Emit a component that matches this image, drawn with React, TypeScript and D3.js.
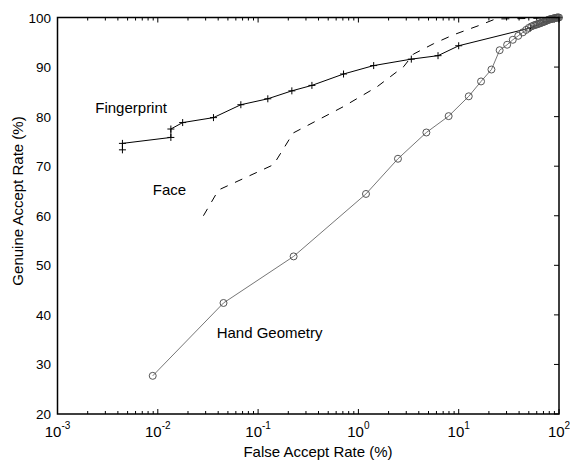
import * as d3 from "d3";

const W = 570;
const H = 460;
const FONT = "'Liberation Sans', Arial, Helvetica, sans-serif";

// Fingerprint (solid, + markers)
const fpFar = [0.00444, 0.00444, 0.0135, 0.0135, 0.0177, 0.0359, 0.0673, 0.125, 0.217, 0.344, 0.711, 1.42, 3.37, 6.22, 10.0, 52, 75, 90, 100];
const fpGar = [73.3, 74.6, 75.8, 77.5, 78.8, 79.8, 82.4, 83.6, 85.2, 86.3, 88.6, 90.3, 91.6, 92.3, 94.3, 97.9, 99.2, 99.7, 100];

// Face (dashed, no markers)
const faceFar = [0.0285, 0.0403, 0.1426, 0.224, 0.706, 1.53, 2.83, 3.53, 5.6, 8.85, 16.5, 23.2, 50, 100];
const faceGar = [60.0, 65.2, 70.3, 76.7, 82.0, 86.0, 90.1, 92.6, 94.7, 96.5, 98.5, 99.7, 99.8, 100];

// Hand geometry (thin grey, o markers)
const handFar = [0.0089, 0.0452, 0.226, 1.19, 2.48, 4.76, 7.94, 12.6, 16.7, 21.2, 25.6, 30.4, 34.6, 39.2, 43.6, 47, 50, 53, 56, 58, 60, 62, 64, 66, 68, 70, 72, 74, 76, 78, 80, 82, 84, 86, 88, 90, 92, 94, 96, 98, 100];
const handGar = [27.7, 42.4, 51.8, 64.4, 71.5, 76.8, 80.1, 84.1, 87.1, 89.5, 93.4, 94.5, 95.5, 96.3, 97.0, 97.5, 97.9, 98.2, 98.4, 98.5, 98.6, 98.7, 98.8, 98.9, 99.0, 99.1, 99.2, 99.3, 99.4, 99.5, 99.6, 99.65, 99.7, 99.75, 99.8, 99.85, 99.9, 99.95, 100, 100, 100];

const yTicks = [20, 30, 40, 50, 60, 70, 80, 90, 100];
const xDecades = [-3, -2, -1, 0, 1, 2];

const labels = [
  { text: "Fingerprint", far: 0.00238, gar: 80.7 },
  { text: "Face", far: 0.0089, gar: 64.2 },
  { text: "Hand Geometry", far: 0.0386, gar: 35.3 },
];

const zip = (xs: number[], ys: number[]) => xs.map((x, i) => [x, ys[i]] as [number, number]);

export default function App() {
  const x = d3.scaleLog().domain([1e-3, 1e2]).range([57.5, 559]);
  const y = d3.scaleLinear().domain([20, 100]).range([414, 17.5]);
  const line = d3
    .line<[number, number]>()
    .x((d) => x(d[0]))
    .y((d) => y(d[1]));

  const fp = zip(fpFar, fpGar);
  const face = zip(faceFar, faceGar);
  const hand = zip(handFar, handGar);

  const minor: number[] = [];
  for (let e = -3; e < 2; e++) for (let k = 2; k <= 9; k++) minor.push(k * Math.pow(10, e));

  const [x0, x1] = x.range();
  const [y0, y1] = y.range();

  return (
    <svg width={W} height={H} style={{ position: "absolute", left: 0, top: 0, background: "#fff" }} fontFamily={FONT}>
      {/* ticks */}
      <g stroke="#000" strokeWidth={1}>
        {minor.map((m) => (
          <g key={"m" + m}>
            <line x1={x(m)} x2={x(m)} y1={y0} y2={y0 - 3} />
            <line x1={x(m)} x2={x(m)} y1={y1} y2={y1 + 3} />
          </g>
        ))}
        {xDecades.map((e) => (
          <g key={"d" + e}>
            <line x1={x(Math.pow(10, e))} x2={x(Math.pow(10, e))} y1={y0} y2={y0 - 5} />
            <line x1={x(Math.pow(10, e))} x2={x(Math.pow(10, e))} y1={y1} y2={y1 + 5} />
          </g>
        ))}
        {yTicks.map((t) => (
          <line key={"y" + t} x1={x1} x2={x1 - 5} y1={y(t)} y2={y(t)} />
        ))}
      </g>

      {/* data */}
      <path d={line(fp) ?? ""} fill="none" stroke="#000" strokeWidth={1} />
      {fp.map((d, i) => (
        <path
          key={"f" + i}
          d={`M${x(d[0]) - 3.5},${y(d[1])}h7M${x(d[0])},${y(d[1]) - 3.5}v7`}
          stroke="#000"
          strokeWidth={1}
        />
      ))}
      <path d={line(face) ?? ""} fill="none" stroke="#000" strokeWidth={1} strokeDasharray="8,8" />
      <path d={line(hand) ?? ""} fill="none" stroke="#666" strokeWidth={0.9} />
      {hand.map((d, i) => (
        <circle key={"h" + i} cx={x(d[0])} cy={y(d[1])} r={3.5} fill="none" stroke="#555" strokeWidth={1} />
      ))}

      {/* box */}
      <path d={`M${x0},${y1}H${x1}V${y0}H${x0}Z`} fill="none" stroke="#000" strokeWidth={1.5} />

      {/* tick labels */}
      {yTicks.map((t) => (
        <text key={"yl" + t} x={51} y={y(t) + 5} textAnchor="end" fontSize={13.5}>
          {t}
        </text>
      ))}
      {xDecades.map((e) => (
        <text key={"xl" + e} x={x(Math.pow(10, e))} y={436.5} textAnchor="middle" fontSize={15}>
          10
          <tspan fontSize={10} dy={-8}>
            {e}
          </tspan>
        </text>
      ))}

      {/* axis titles */}
      <text x={318} y={456.5} textAnchor="middle" fontSize={15}>
        False Accept Rate (%)
      </text>
      <text transform="translate(23,201) rotate(-90)" textAnchor="middle" fontSize={15}>
        Genuine Accept Rate (%)
      </text>

      {labels.map((l) => (
        <text key={l.text} x={x(l.far)} y={y(l.gar)} fontSize={15}>
          {l.text}
        </text>
      ))}
    </svg>
  );
}
